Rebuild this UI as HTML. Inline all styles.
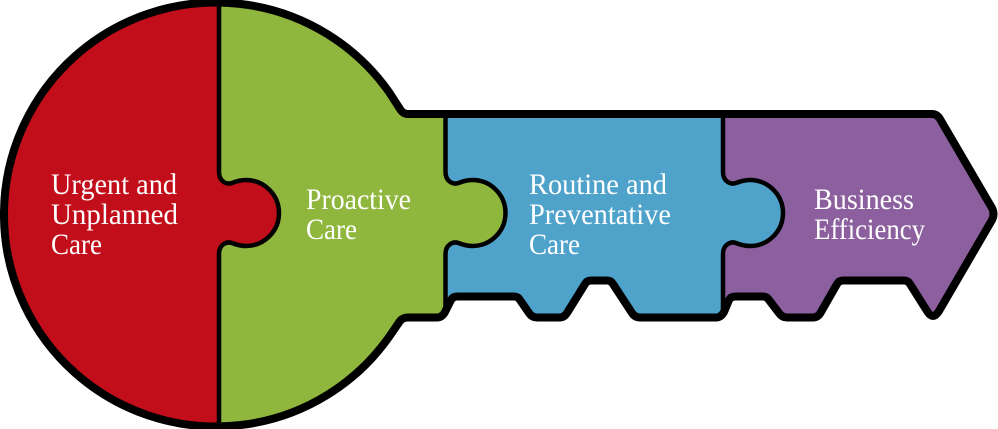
<!DOCTYPE html>
<html>
<head>
<meta charset="utf-8">
<style>
html,body{margin:0;padding:0;background:#fff;width:998px;height:429px;overflow:hidden}
svg{display:block}
text{font-family:"Liberation Serif",serif;font-size:30px;fill:#fff}
</style>
</head>
<body>
<svg width="998" height="429" viewBox="0 0 998 429" xmlns="http://www.w3.org/2000/svg">
<defs>
<path id="o" d="M389 92 L400 109 Q403 114 408 114 H932 Q937 114 940 119 L992 208 Q995 214 992 220 L939 311 Q933 321 927 311 L910 284 Q908 280.500 904 280.500 H843 Q839 280.500 837 284 L821 312 Q818 317.500 813 317.500 H787 Q782 317.500 779 313 L769 300 Q767 296.500 763 296.500 H735 Q731 296.500 729 300 L724 312 Q721 317.500 716 317.500 H640 Q635 317.500 632 313 L613 284 Q611 280.500 607 280.500 H591 Q587 280.500 585 284 L567 313 Q564 317.500 560 317.500 H537 Q532 317.500 529 313 L520 300 Q518 296.500 514 296.500 H457 Q453 296.500 451 300 L445 312 Q442 317.500 437 317.500 H408 Q403 317.500 400 321 L389 337 A212 212 0 1 1 389 92 Z"/>
<path id="p" d="M0 4 V172 C0 181 7 185 13 183 C18 181 22 180 27 180 A33 33 0 0 1 27 246 C22 246 18 245 13 243 C7 241 0 245 0 254 V425"/>
<clipPath id="c"><use href="#o"/></clipPath>
</defs>
<g clip-path="url(#c)">
<rect width="998" height="429" fill="#8c609f"/>
<path fill="#4fa3cb" d="M0 0 H723 V172 C723 181 730 185 736 183 C741 181 745 180 750 180 A33 33 0 0 1 750 246 C745 246 741 245 736 243 C730 241 723 245 723 254 V429 H0 Z"/>
<path fill="#8fb63d" d="M0 0 H445.500 V172 C445.500 181 452.500 185 458.500 183 C463.500 181 467.500 180 472.500 180 A33 33 0 0 1 472.500 246 C467.500 246 463.500 245 458.500 243 C452.500 241 445.500 245 445.500 254 V429 H0 Z"/>
<path fill="#c20e1a" d="M0 0 H219 V172 C219 181 226 185 232 183 C237 181 241 180 246 180 A33 33 0 0 1 246 246 C241 246 237 245 232 243 C226 241 219 245 219 254 V429 H0 Z"/>
<g fill="none" stroke="#000" stroke-width="4.500">
<use href="#p" x="219"/>
<use href="#p" x="445.500"/>
<use href="#p" x="723"/>
</g>
</g>
<use href="#o" fill="none" stroke="#000" stroke-width="8" stroke-linejoin="round"/>
<text x="51" y="194" textLength="126" lengthAdjust="spacingAndGlyphs">Urgent and</text>
<text x="51" y="224" textLength="127" lengthAdjust="spacingAndGlyphs">Unplanned</text>
<text x="51" y="254" textLength="51" lengthAdjust="spacingAndGlyphs">Care</text>
<text x="306" y="209" textLength="105" lengthAdjust="spacingAndGlyphs">Proactive</text>
<text x="306" y="239" textLength="51" lengthAdjust="spacingAndGlyphs">Care</text>
<text x="529" y="194" textLength="138" lengthAdjust="spacingAndGlyphs">Routine and</text>
<text x="529" y="224" textLength="142" lengthAdjust="spacingAndGlyphs">Preventative</text>
<text x="529" y="254" textLength="51" lengthAdjust="spacingAndGlyphs">Care</text>
<text x="814" y="209" textLength="100" lengthAdjust="spacingAndGlyphs">Business</text>
<text x="814" y="239" textLength="111" lengthAdjust="spacingAndGlyphs">Efficiency</text>
</svg>
</body>
</html>
